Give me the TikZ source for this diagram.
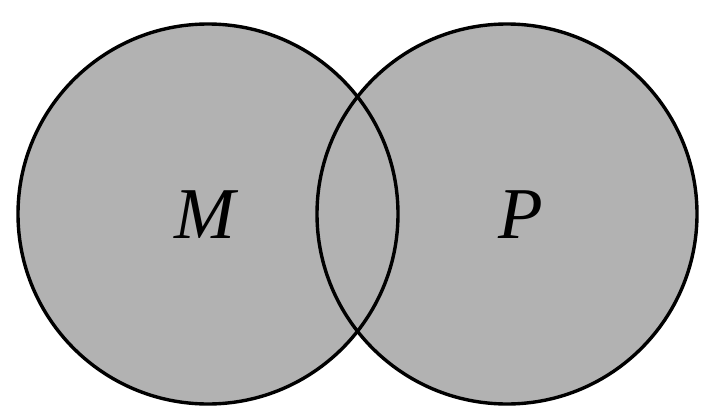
\documentclass[tikz,border=0pt]{standalone}
\usepackage{fontspec}
\setmainfont{Liberation Serif}
\usepackage{tikz}
\usetikzlibrary{positioning}
\definecolor{vennGray}{RGB}{178, 178, 178}

\begin{document}
\begin{tikzpicture}[x=1pt, y=-1pt,
    setlabel/.style={anchor=base, inner sep=0pt, font=\fontsize{73}{73}\selectfont\itshape}]
    \useasboundingbox (0,0) rectangle (709,420);
    \coordinate (CM) at (208,214); % centre of M
    \coordinate (CP) at (507,214); % centre of P

    \fill[vennGray] (CM) circle (190pt) (CP) circle (190pt);
    \draw[line width=3.4pt] (CM) circle (190pt);
    \draw[line width=3.4pt] (CP) circle (190pt);

    \node[setlabel] (M) at (204.5,238) {M};
    \node[setlabel] (P) at (521,238) {P};
\end{tikzpicture}
\end{document}
